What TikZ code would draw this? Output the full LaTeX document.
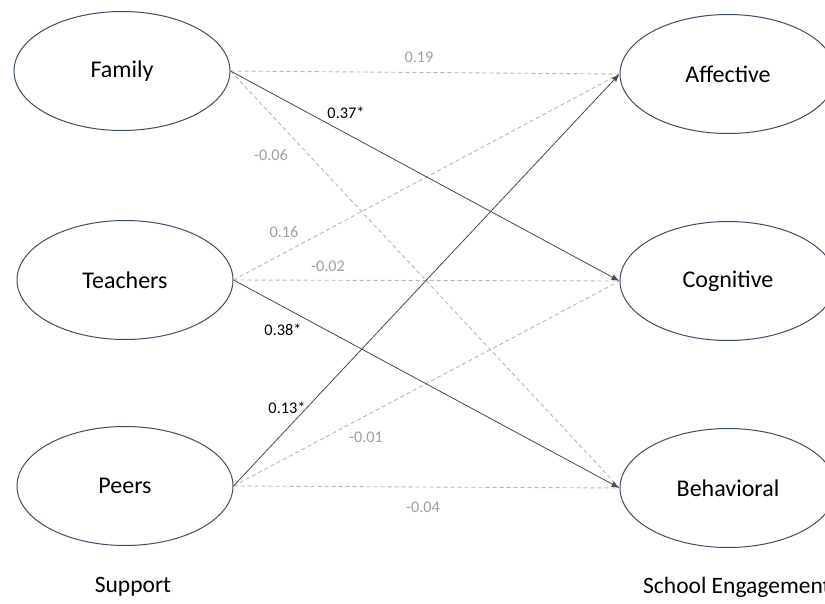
\documentclass[tikz,border=0pt]{standalone}
\usepackage{fontspec}
\setmainfont{Carlito}
\usetikzlibrary{shapes.geometric,arrows.meta}
\definecolor{nodeline}{HTML}{3E4E62}
\definecolor{solidline}{HTML}{4A4A4A}
\definecolor{dashline}{HTML}{B8B8B8}
\definecolor{dashlabel}{HTML}{A0A0A0}
\tikzset{
  latent/.style={ellipse, draw=nodeline, line width=1pt, minimum width=216pt, minimum height=119pt, inner sep=0pt, font=\fontsize{24}{28}\selectfont},
  sig/.style={draw=solidline, line width=0.8pt, -{Latex[length=8pt,width=6pt]}},
  nonsig/.style={draw=dashline, line width=0.9pt, dash pattern=on 4pt off 3pt},
  siglabel/.style={font=\fontsize{16.3}{19}\selectfont, text=black, inner sep=0pt},
  nslabel/.style={font=\fontsize{16.3}{19}\selectfont, text=dashlabel, inner sep=0pt},
  grouplabel/.style={font=\fontsize{23.5}{27}\selectfont, inner sep=0pt}
}
\begin{document}
\begin{tikzpicture}[x=1pt,y=-1pt]
\useasboundingbox (0,0) rectangle (825,603);
\clip (0,0) rectangle (825,603);
\fill[white] (0,0) rectangle (825,603);
% nodes
\node[latent] (fam) at (122,71) {Family};
\node[latent] (tea) at (125,280) {Teachers};
\node[latent] (pee) at (125,486) {Peers};
\node[latent] (aff) at (728,74) {Affective};
\node[latent] (cog) at (728,281) {Cognitive};
\node[latent] (beh) at (728,488) {Behavioral};
% group labels
\node[grouplabel] (sup) at (133,587) {Support};
\node[grouplabel, anchor=west] (se) at (643,587) {School Engagement};
% non-significant paths
\draw[nonsig] (fam.east) -- (aff.west);
\draw[nonsig] (fam.east) -- (beh.west);
\draw[nonsig] (tea.east) -- (aff.west);
\draw[nonsig] (tea.east) -- (cog.west);
\draw[nonsig] (pee.east) -- (cog.west);
\draw[nonsig] (pee.east) -- (beh.west);
% significant paths
\draw[sig] (fam.east) -- (cog.west);
\draw[sig] (tea.east) -- (beh.west);
\draw[sig] (pee.east) -- (aff.west);
% labels
\node[nslabel] (l19) at (419,57) {0.19};
\node[siglabel] (l37) at (346,113) {0.37*};
\node[nslabel] (l06) at (271,155) {-0.06};
\node[nslabel] (l16) at (284,232) {0.16};
\node[nslabel] (l02) at (328,266) {-0.02};
\node[siglabel] (l38) at (283,330) {0.38*};
\node[siglabel] (l13) at (287,408) {0.13*};
\node[nslabel] (l01) at (366,437) {-0.01};
\node[nslabel] (l04) at (423,507) {-0.04};
\end{tikzpicture}
\end{document}
